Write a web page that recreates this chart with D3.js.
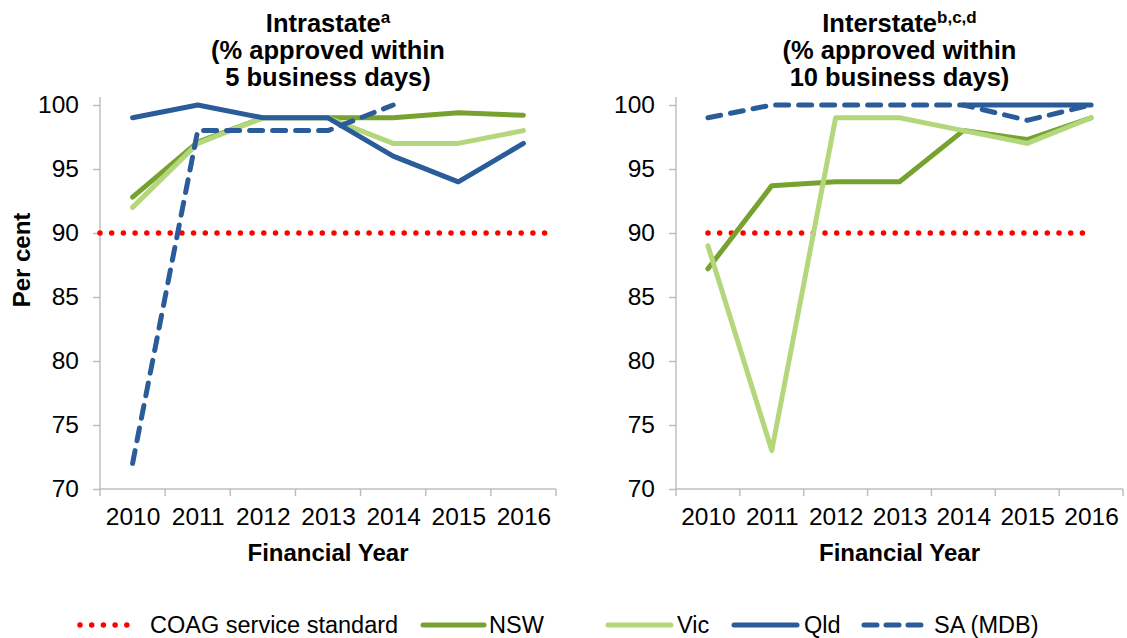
<!DOCTYPE html>
<html>
<head>
<meta charset="utf-8">
<script src="https://cdn.jsdelivr.net/npm/d3@7"></script>
<style>
  html, body { margin: 0; padding: 0; background: #fff; }
  text { font-family: "Liberation Sans", Arial, sans-serif; fill: #000; }
</style>
</head>
<body>
<div id="chart"></div>
<script>
const YEARS = ['2010', '2011', '2012', '2013', '2014', '2015', '2016'];
const Y_TICKS = [70, 75, 80, 85, 90, 95, 100];
const COAG = [90, 90, 90, 90, 90, 90, 90];

// Intrastate (% approved within 5 business days)
const INTRA_NSW = [92.8, 97.1, 99, 99, 99, 99.4, 99.2];
const INTRA_VIC = [92, 97, 99, 99, 97, 97, 98];
const INTRA_QLD = [99, 100, 99, 99, 96, 94, 97];
const INTRA_SA = [72, 98, 98, 98, 100, null, null];

// Interstate (% approved within 10 business days)
const INTER_NSW = [87.2, 93.7, 94, 94, 98, 97.3, 99];
const INTER_VIC = [89, 73, 99, 99, 98, 97, 99];
const INTER_QLD = [null, null, null, null, 100, 100, 100];
const INTER_SA = [99, 100, 100, 100, 100, 98.8, 100];

const SERIES_NAMES = ['COAG service standard', 'NSW', 'Vic', 'Qld', 'SA (MDB)'];

const COLORS = {
	red: '#FF0000',
	nsw: '#77A22F',
	vic: '#B3D77A',
	qld: '#2A5C9A',
	axis: '#BFBFBF',
};

const WIDTH = 1127;
const HEIGHT = 638;
const PLOT_TOP = 105;
const PLOT_BOTTOM = 489;

const svg = d3.select('#chart')
	.append('svg')
		.attr('width', WIDTH)
		.attr('height', HEIGHT);

const y = d3.scaleLinear()
	.domain([70, 100])
	.range([PLOT_BOTTOM, PLOT_TOP]);

function styleFor(name) {
	if (name === 'COAG service standard') return { color: COLORS.red, width: 5.5, dash: '0 11.7' };
	if (name === 'NSW') return { color: COLORS.nsw, width: 5, dash: null };
	if (name === 'Vic') return { color: COLORS.vic, width: 5, dash: null };
	if (name === 'Qld') return { color: COLORS.qld, width: 5, dash: null };
	return { color: COLORS.qld, width: 5, dash: '13 10' };
}

function drawPanel(opts) {
	const x = d3.scalePoint()
		.domain(YEARS)
		.range([opts.left, opts.right])
		.padding(0.5);
	const band = (opts.right - opts.left) / YEARS.length;

	const g = svg.append('g');

	// axes
	const yAxis = d3.axisLeft(y)
		.tickValues(Y_TICKS)
		.tickSize(7)
		.tickPadding(14);
	const yAxisGroup = g.append('g')
		.attr('transform', `translate(${opts.left}, 0)`)
		.call(yAxis);

	const xAxisGroup = g.append('g')
		.attr('transform', `translate(0, ${PLOT_BOTTOM})`)
		.call(d3.axisBottom(x).tickSize(0).tickPadding(19));

	// category boundary ticks
	xAxisGroup.selectAll('.bound')
		.data(YEARS.concat(['end']))
		.enter().append('line')
			.attr('class', 'bound')
			.attr('x1', (d, i) => opts.left + i * band)
			.attr('x2', (d, i) => opts.left + i * band)
			.attr('y1', 0)
			.attr('y2', 7)
			.attr('stroke', COLORS.axis)
			.attr('stroke-width', 1.5);

	[yAxisGroup, xAxisGroup].forEach(ax => {
		ax.attr('font-size', null).attr('font-family', null);
		ax.select('.domain').attr('stroke', COLORS.axis).attr('stroke-width', 1.5);
		ax.selectAll('.tick line').attr('stroke', COLORS.axis).attr('stroke-width', 1.5);
		ax.selectAll('.tick text')
			.style('font-size', '24.5px')
			.attr('fill', '#000');
	});
	yAxisGroup.select('.domain').attr('d', `M0,${PLOT_TOP - 8}V${PLOT_BOTTOM}`);
	xAxisGroup.select('.domain').attr('d', `M${opts.left},0H${opts.right}`);

	// COAG standard
	const coagLine = d3.line()
		.x((d, i) => i === 0 ? opts.coagStart : (i === COAG.length - 1 ? opts.coagEnd : x(YEARS[i])))
		.y(d => y(d));
	const red = styleFor(SERIES_NAMES[0]);
	g.append('path')
		.datum(COAG)
		.attr('d', coagLine)
		.attr('fill', 'none')
		.attr('stroke', red.color)
		.attr('stroke-width', red.width)
		.attr('stroke-linecap', 'round')
		.attr('stroke-dasharray', red.dash);

	// series
	const line = d3.line()
		.defined(d => d != null)
		.x((d, i) => x(YEARS[i]))
		.y(d => y(d));

	opts.series.forEach((values, k) => {
		const s = styleFor(SERIES_NAMES[k + 1]);
		g.append('path')
			.datum(values)
			.attr('d', line)
			.attr('fill', 'none')
			.attr('stroke', s.color)
			.attr('stroke-width', s.width)
			.attr('stroke-linejoin', 'round')
			.attr('stroke-linecap', 'round')
			.attr('stroke-dasharray', s.dash);
	});

	// title
	const cx = (opts.left + opts.right) / 2;
	const title = g.append('text')
		.attr('text-anchor', 'middle')
		.style('font-size', '25.5px')
		.style('font-weight', 'bold');
	const first = title.append('tspan')
		.attr('x', cx)
		.attr('y', 32);
	first.append('tspan').text(opts.title[0]);
	first.append('tspan')
		.style('font-size', '17px')
		.attr('dy', -9)
		.text(opts.sup);
	title.append('tspan')
		.attr('x', cx)
		.attr('y', 59)
		.text(opts.title[1]);
	title.append('tspan')
		.attr('x', cx)
		.attr('y', 86)
		.text(opts.title[2]);

	g.append('text')
		.attr('x', cx)
		.attr('y', 561)
		.attr('text-anchor', 'middle')
		.style('font-size', '24px')
		.style('font-weight', 'bold')
		.text('Financial Year');
}

drawPanel({
	left: 100,
	right: 556,
	coagStart: 100,
	coagEnd: 553,
	title: ['Intrastate', '(% approved within', '5 business days)'],
	sup: 'a',
	series: [INTRA_NSW, INTRA_VIC, INTRA_QLD, INTRA_SA],
});

drawPanel({
	left: 676,
	right: 1123,
	coagStart: 708,
	coagEnd: 1085,
	title: ['Interstate', '(% approved within', '10 business days)'],
	sup: 'b,c,d',
	series: [INTER_NSW, INTER_VIC, INTER_QLD, INTER_SA],
});

// y-axis label
svg.append('text')
	.attr('transform', `translate(30, 260) rotate(-90)`)
	.attr('text-anchor', 'middle')
	.style('font-size', '24px')
	.style('font-weight', 'bold')
	.text('Per cent');

// legend
const LEGEND_Y = 625;
const legendItems = [
	{ name: SERIES_NAMES[0], x1: 80, x2: 138, tx: 150 },
	{ name: SERIES_NAMES[1], x1: 423, x2: 484, tx: 489 },
	{ name: SERIES_NAMES[2], x1: 608, x2: 671, tx: 677 },
	{ name: SERIES_NAMES[3], x1: 734, x2: 797, tx: 804 },
	{ name: SERIES_NAMES[4], x1: 864, x2: 923, tx: 934 },
];
const legend = svg.append('g');
legendItems.forEach(item => {
	const s = styleFor(item.name);
	legend.append('line')
		.attr('x1', item.x1)
		.attr('x2', item.x2)
		.attr('y1', LEGEND_Y)
		.attr('y2', LEGEND_Y)
		.attr('stroke', s.color)
		.attr('stroke-width', s.width)
		.attr('stroke-linecap', 'round')
		.attr('stroke-dasharray', item.name === 'SA (MDB)' ? '13 9' : s.dash);
	legend.append('text')
		.attr('x', item.tx)
		.attr('y', LEGEND_Y + 8)
		.style('font-size', '23.5px')
		.text(item.name);
});
</script>
</body>
</html>
